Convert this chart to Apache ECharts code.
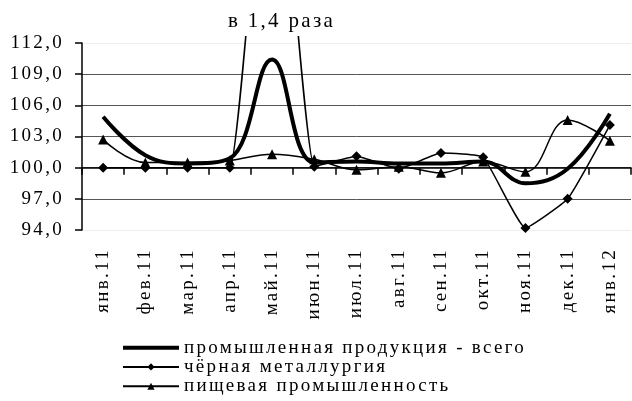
<!DOCTYPE html>
<html><head><meta charset="utf-8">
<script src="https://cdn.jsdelivr.net/npm/echarts@6/dist/echarts.min.js"></script>
<style>html,body{margin:0;padding:0;background:#fff}#c{width:632px;height:401px}</style>
</head><body><div id="c"></div>
<script>
var categories = ['янв.11','фев.11','мар.11','апр.11','май.11','июн.11','июл.11','авг.11','сен.11','окт.11','ноя.11','дек.11','янв.12'];
var totalIndustry = [104.9, 101.2, 100.4, 100.9, 110.4, 100.5, 100.6, 100.4, 100.4, 100.6, 98.5, 99.9, 105.2];
var ferrousMetal = [100.0, 100.0, 100.0, 100.0, 140.0, 100.1, 101.1, 99.9, 101.4, 101.0, 94.2, 97.0, 104.1];
var foodIndustry = [102.7, 100.5, 100.5, 100.7, 101.3, 100.8, 99.8, 100.1, 99.5, 100.6, 99.6, 104.6, 102.6];
var seriesNames = ['промышленная продукция - всего', 'чёрная металлургия', 'пищевая промышленность'];
var annotationText = 'в 1,4 раза';

// widen text tracking like the original document (letter spacing)
(function () {
  var P = window.CanvasRenderingContext2D && CanvasRenderingContext2D.prototype;
  if (!P || !('letterSpacing' in P)) return;
  var ft = P.fillText, mt = P.measureText;
  P.fillText = function () { this.letterSpacing = '2.3px'; return ft.apply(this, arguments); };
  P.measureText = function () { this.letterSpacing = '2.3px'; return mt.apply(this, arguments); };
})();

var FONT = 'Liberation Serif';
var chart = echarts.init(document.getElementById('c'), null, {renderer: 'canvas'});
var gridTop = 43, gridBottom = 171, gridH = 401 - gridTop - gridBottom;
var y100 = gridTop + gridH * (112 - 100) / 18;
chart.setOption({
  animation: false,
  backgroundColor: '#fff',
  textStyle: {fontFamily: FONT, color: '#000'},
  grid: {left: 82, right: 1, top: gridTop, bottom: gridBottom, containLabel: false},
  xAxis: [{
    type: 'category', data: categories, boundaryGap: true, position: 'bottom',
    axisLine: {show: false}, axisTick: {show: false}, splitLine: {show: false},
    axisLabel: {rotate: 90, margin: 18, fontSize: 19, fontFamily: FONT, color: '#000', interval: 0}
  }, {
    type: 'category', data: categories, boundaryGap: true, position: 'bottom',
    offset: -(401 - gridBottom - y100),
    axisLine: {show: true, lineStyle: {color: '#000', width: 1.5}},
    axisTick: {show: true, length: 7, interval: 0, lineStyle: {color: '#000', width: 1.5}},
    axisLabel: {show: false}, splitLine: {show: false}
  }],
  yAxis: {
    type: 'value', min: 94, max: 112, interval: 3,
    axisLine: {show: true, lineStyle: {color: '#000', width: 1.5}},
    axisTick: {show: true, length: 7, lineStyle: {color: '#000', width: 1.5}},
    axisLabel: {fontSize: 19, fontFamily: FONT, color: '#000', margin: 18,
      formatter: function (v) { return v.toFixed(1).replace('.', ','); }},
    splitLine: {show: true, lineStyle: {color: ['#eeeeee', '#555555', '#555555', '#555555', '#555555', '#555555', '#eeeeee'], width: 1}}
  },
  legend: {
    orient: 'vertical', left: 121, top: 337, padding: 0, itemGap: -2, itemWidth: 56, itemHeight: 9,
    height: 64,
    textStyle: {fontFamily: FONT, fontSize: 19, color: '#000', lineHeight: 18.5},
    data: [{name: seriesNames[0], itemStyle: {opacity: 0}, lineStyle: {width: 4, color: '#000', opacity: 1}}, seriesNames[1], seriesNames[2]]
  },
  series: [{
    name: seriesNames[0], type: 'line', data: totalIndustry, xAxisIndex: 0, smooth: 0.4,
    showSymbol: false, symbol: 'none', lineStyle: {color: '#000', width: 4}, itemStyle: {color: '#000'}, z: 3
  }, {
    name: seriesNames[1], type: 'line', data: ferrousMetal, xAxisIndex: 0, smooth: 0.12, clip: false,
    symbol: 'diamond', symbolSize: 10, lineStyle: {color: '#000', width: 1.5}, itemStyle: {color: '#000'}, z: 2
  }, {
    name: seriesNames[2], type: 'line', data: foodIndustry, xAxisIndex: 0, smooth: 0.4,
    symbol: 'triangle', symbolSize: 10, lineStyle: {color: '#000', width: 1.5}, itemStyle: {color: '#000'}, z: 2
  }],
  graphic: [{
    type: 'rect', left: 200, top: 0, z: 100,
    shape: {width: 170, height: 36}, style: {fill: '#fff'}
  }, {
    type: 'text', left: 228, top: 10, z: 101,
    style: {text: annotationText, font: '21px "' + FONT + '"', fill: '#000'}
  }]
});
</script></body></html>
